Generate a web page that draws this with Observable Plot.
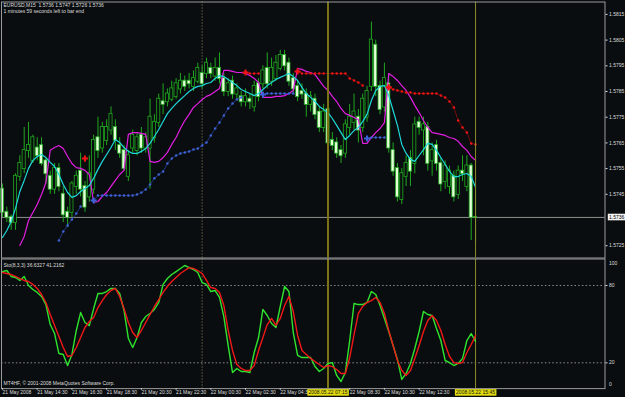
<!DOCTYPE html>
<html>
<head>
<meta charset="utf-8">
<script src="https://cdn.jsdelivr.net/npm/d3@7"></script>
<script src="https://cdn.jsdelivr.net/npm/@observablehq/plot@0.6"></script>
<style>
  html, body { margin: 0; padding: 0; background: #0a0d0f; }
  #chart { width: 625px; height: 397px; overflow: hidden; background: #0a0d0f; }
  #chart svg { display: block; }
</style>
</head>
<body>
<div id="chart"></div>
<script>
// ---------- texts ----------
const symbolName = "EURUSD,M15";
const headerOHLC = ["1.5736", "1.5747", "1.5726", "1.5736"];
const timerText = "1 minutes 59 seconds left to bar end";
const stochName = "Sto(8,3,3)";
const stochLast = ["36.6327", "41.2162"];
const copyright = "MT4HF, \u00a9 2001-2008 MetaQuotes Software Corp.";

// ---------- candles (bar index 0 = 21 May 12:30, M15) ----------
const openP = [
1.5747,1.5738,1.5736,1.5734,1.5752,1.5755,1.5762,1.5758,1.5763,1.5764,
1.5758,1.5752,1.5747,1.5755,1.5745,1.5738,1.5738,1.5748,1.5754,1.5748,
1.5744,1.5747,1.5767,1.5763,1.5766,1.5770,1.5771,1.5764,1.5762,1.5752,
1.5763,1.5762,1.5768,1.5763,1.5763,1.5767,1.5773,1.5781,1.5781,1.5782,
1.5783,1.5786,1.5789,1.5789,1.5787,1.5789,1.5792,1.5792,1.5794,1.5791,
1.5794,1.5790,1.5785,1.5789,1.5784,1.5783,1.5781,1.5782,1.5779,1.5788,
1.5788,1.5794,1.5789,1.5790,1.5794,1.5799,1.5796,1.5790,1.5787,1.5785,
1.5784,1.5780,1.5782,1.5777,1.5771,1.5778,1.5766,1.5765,1.5762,1.5761,
1.5771,1.5773,1.5775,1.5771,1.5775,1.5787,1.5803,1.5787,1.5779,1.5788,
1.5762,1.5755,1.5743,1.5752,1.5759,1.5757,1.5773,1.5770,1.5771,1.5758,
1.5764,1.5757,1.5750,1.5748,1.5752,1.5745,1.5754,1.5748,1.5756,1.5736];
const highP = [
1.5749,1.5740,1.5737,1.5753,1.5760,1.5771,1.5773,1.5768,1.5767,1.5767,
1.5759,1.5754,1.5757,1.5757,1.5748,1.5740,1.5750,1.5754,1.5761,1.5750,
1.5760,1.5768,1.5775,1.5773,1.5774,1.5779,1.5774,1.5767,1.5764,1.5762,
1.5770,1.5769,1.5771,1.5769,1.5782,1.5776,1.5784,1.5788,1.5786,1.5789,
1.5790,1.5792,1.5791,1.5792,1.5793,1.5796,1.5795,1.5798,1.5796,1.5798,
1.5800,1.5792,1.5790,1.5791,1.5788,1.5785,1.5786,1.5784,1.5789,1.5790,
1.5795,1.5800,1.5798,1.5799,1.5801,1.5801,1.5798,1.5792,1.5789,1.5788,
1.5786,1.5785,1.5784,1.5779,1.5780,1.5780,1.5769,1.5767,1.5764,1.5774,
1.5780,1.5784,1.5778,1.5784,1.5787,1.5812,1.5805,1.5789,1.5796,1.5792,
1.5765,1.5757,1.5755,1.5760,1.5762,1.5775,1.5775,1.5775,1.5773,1.5765,
1.5766,1.5759,1.5758,1.5756,1.5754,1.5756,1.5760,1.5760,1.5757,1.5747];
const lowP = [
1.5736,1.5734,1.5731,1.5731,1.5750,1.5753,1.5759,1.5757,1.5758,1.5756,
1.5749,1.5745,1.5745,1.5746,1.5734,1.5732,1.5736,1.5745,1.5744,1.5738,
1.5742,1.5745,1.5759,1.5761,1.5764,1.5768,1.5762,1.5759,1.5754,1.5750,
1.5761,1.5760,1.5761,1.5761,1.5747,1.5765,1.5771,1.5776,1.5779,1.5781,
1.5782,1.5784,1.5785,1.5786,1.5785,1.5788,1.5786,1.5790,1.5790,1.5789,
1.5788,1.5783,1.5783,1.5782,1.5782,1.5779,1.5779,1.5778,1.5777,1.5781,
1.5786,1.5786,1.5787,1.5789,1.5793,1.5793,1.5787,1.5784,1.5781,1.5782,
1.5775,1.5777,1.5774,1.5769,1.5769,1.5763,1.5762,1.5759,1.5757,1.5759,
1.5768,1.5770,1.5765,1.5769,1.5773,1.5785,1.5783,1.5776,1.5777,1.5761,
1.5752,1.5742,1.5741,1.5748,1.5748,1.5753,1.5768,1.5760,1.5754,1.5752,
1.5754,1.5746,1.5747,1.5745,1.5742,1.5743,1.5750,1.5746,1.5727,1.5726];
const closeP = [
1.5738,1.5736,1.5734,1.5752,1.5757,1.5762,1.5764,1.5767,1.5760,1.5757,
1.5753,1.5747,1.5755,1.5748,1.5737,1.5736,1.5749,1.5752,1.5747,1.5740,
1.5753,1.5766,1.5762,1.5771,1.5771,1.5776,1.5766,1.5761,1.5755,1.5760,
1.5768,1.5767,1.5763,1.5767,1.5775,1.5773,1.5782,1.5780,1.5784,1.5786,
1.5788,1.5789,1.5787,1.5788,1.5790,1.5794,1.5788,1.5796,1.5792,1.5794,
1.5790,1.5785,1.5788,1.5784,1.5786,1.5781,1.5783,1.5781,1.5787,1.5783,
1.5793,1.5788,1.5794,1.5796,1.5799,1.5795,1.5789,1.5786,1.5783,1.5784,
1.5780,1.5783,1.5776,1.5771,1.5777,1.5765,1.5764,1.5761,1.5760,1.5772,
1.5775,1.5777,1.5770,1.5782,1.5785,1.5805,1.5787,1.5778,1.5790,1.5763,
1.5754,1.5744,1.5753,1.5757,1.5754,1.5772,1.5771,1.5772,1.5757,1.5762,
1.5757,1.5749,1.5756,1.5754,1.5744,1.5754,1.5753,1.5756,1.5736,1.5736];

// ---------- indicators ----------
const maLine = [ // cyan
1.57282,1.57309,1.57344,1.57395,1.57461,1.57504,1.57551,1.57582,1.57597,1.57605,
1.57593,1.57574,1.57558,1.57527,1.57488,1.57457,1.57438,1.57445,1.57461,1.57473,
1.57484,1.57512,1.57547,1.57578,1.57605,1.57632,1.57663,1.57652,1.57632,1.57617,
1.57609,1.57609,1.57617,1.57628,1.57648,1.57675,1.57702,1.57733,1.57764,1.57784,
1.57803,1.57819,1.57834,1.5785,1.57862,1.5787,1.57873,1.57881,1.57885,1.57901,
1.57912,1.57908,1.57897,1.57885,1.57873,1.57858,1.5785,1.57842,1.57834,1.57842,
1.57858,1.57873,1.57885,1.57897,1.57905,1.57912,1.5792,1.57908,1.57893,1.57866,
1.57842,1.57827,1.57811,1.57792,1.5778,1.57768,1.57745,1.57718,1.5769,1.57663,
1.57679,1.57698,1.5771,1.57733,1.57761,1.57815,1.57854,1.5787,1.57873,1.57834,
1.57776,1.57718,1.57644,1.57609,1.57586,1.57578,1.57601,1.57624,1.57648,1.57644,
1.57621,1.57593,1.57566,1.57539,1.57519,1.57519,1.57527,1.57531,1.57519,1.57477];
const envLine = [ // magenta
null,null,null,null,1.57251,1.57286,1.57348,1.57379,1.5741,1.57449,
1.57496,1.57621,1.57632,1.5764,1.57628,1.57597,1.5757,1.57554,1.57551,1.57543,
1.57527,1.57418,1.57422,1.57442,1.57457,1.57481,1.57504,1.57527,1.57543,1.57683,
1.5769,1.5769,1.57687,1.57683,1.57578,1.57574,1.57578,1.57593,1.57613,1.57644,
1.57671,1.57706,1.57737,1.57761,1.57788,1.57803,1.57819,1.57831,1.57838,1.5785,
1.57862,1.57932,1.57932,1.57928,1.57924,1.57924,1.5792,1.57912,1.57901,1.57885,
1.57827,1.57827,1.57827,1.57831,1.57831,1.57834,1.57842,1.57854,1.5794,1.57936,
1.57928,1.57924,1.57916,1.57893,1.5787,1.57854,1.57831,1.57811,1.57784,1.57764,
1.57757,1.57749,1.57741,1.57648,1.57648,1.57671,1.5769,1.57706,1.57729,1.5792,
1.57908,1.57893,1.57873,1.57854,1.57827,1.57796,1.57768,1.57737,1.5771,1.5769,
1.57687,1.57683,1.57679,1.57671,1.57667,1.57656,1.57636,1.57621,1.57597,1.57582];
const sarAbove = [ // red dots
null,null,null,null,null,null,null,null,null,null,
null,null,null,null,null,null,null,null,null,1.57589,
null,null,null,null,null,null,null,null,null,null,
null,null,null,null,null,null,null,null,null,null,
null,null,null,null,null,null,null,null,null,null,
null,null,null,null,null,null,1.57924,1.5792,1.5792,1.5792,
null,null,null,null,null,null,null,null,1.57928,1.5792,
1.5792,1.5792,1.5792,1.5792,1.5792,1.5792,1.5792,1.5792,1.5792,1.5792,
1.57901,1.57893,1.57885,1.57873,null,null,null,null,null,1.57866,
1.57858,1.57854,1.5785,1.57846,1.57846,1.57842,1.57842,1.57842,1.57842,1.57842,
1.57842,1.57834,1.57827,1.57811,1.57788,1.57737,1.5771,1.5769,1.57648,1.57644];
const sarBelow = [ // blue dots
null,null,null,null,null,null,null,null,null,null,
null,null,null,1.5727,1.57305,1.57329,1.57352,1.57375,1.57403,null,
null,1.57426,1.57445,1.57445,1.57445,1.57445,1.57445,1.57445,1.57445,1.57445,
1.57445,1.57449,1.57457,1.57469,1.57488,1.57512,1.57527,1.57539,1.5757,1.57589,
1.57601,1.57609,1.57613,1.57617,1.57624,1.57628,1.5764,1.57652,1.57679,1.57706,
1.57729,1.57757,1.57784,1.57803,1.57819,1.57827,null,null,null,null,
1.57838,1.57842,1.57842,1.57842,1.57842,1.57842,1.57842,1.57842,null,null,
null,null,null,null,null,null,null,null,null,null,
null,null,null,null,1.57667,1.57671,1.57671,1.57671,1.57671,null,
null,null,null,null,null,null,null,null,null,null,
null,null,null,null,null,null,null,null,null,null];
const stochK = [
90.8,91.6,87.0,86.2,83.9,87.0,80.0,76.9,74.6,71.5,
65.2,49.7,42.7,27.2,26.5,17.9,26.5,45.1,59.0,51.3,
48.9,62.1,73.8,73.8,75.3,77.7,77.7,73.8,60.6,38.9,
31.9,39.6,51.3,55.9,58.3,61.4,66.8,80.8,85.4,88.5,
90.8,93.2,95.5,93.9,92.4,90.1,82.3,80.8,75.3,76.1,
70.7,55.9,33.4,12.5,15.6,13.3,13.3,12.5,28.0,39.6,
61.4,56.7,50.5,47.4,63.7,79.2,75.3,43.5,25.7,24.1,
24.1,24.1,17.1,13.3,15.6,19.5,20.2,10.2,5.5,12.5,
37.3,66.0,65.2,65.2,66.8,75.3,73.0,64.5,54.4,44.3,
33.4,22.6,7.1,11.7,19.5,31.1,44.3,59.8,57.5,56.7,
46.6,37.3,21.8,20.2,17.9,19.5,23.3,37.3,42.7,36.6];
const stochD = [
90.1,89.3,88.5,87.0,85.4,83.9,83.1,80.8,77.7,73.0,
66.8,57.5,49.0,40.4,31.9,24.9,25.7,31.9,39.6,47.4,
52.1,55.2,62.9,68.3,73.0,76.1,77.7,71.5,62.1,51.3,
43.5,39.6,45.1,51.3,57.5,63.7,69.1,74.6,79.2,83.1,
86.2,89.3,91.6,93.9,93.2,91.6,89.3,83.9,78.4,77.7,
74.6,64.5,45.1,29.6,18.7,15.6,14.0,14.0,17.9,29.6,
39.6,49.7,54.4,49.0,54.4,64.5,71.5,59.8,41.2,29.6,
26.5,23.4,21.0,18.7,16.4,17.9,17.1,14.8,11.7,11.7,
24.1,41.9,58.3,63.7,66.8,68.3,70.7,66.8,58.3,45.1,
33.4,21.8,14.0,10.2,14.0,23.4,33.4,44.3,52.9,56.7,
52.9,45.1,34.2,24.9,20.2,19.5,20.2,28.0,34.2,41.2];

// ---------- axes / markers ----------
const priceTicks = [1.5725, 1.5745, 1.5755, 1.5765, 1.5775, 1.5785, 1.5795, 1.5805, 1.5815];
const currentPrice = 1.5736;
const stochLevels = [20, 80];
const stochEnds = [100, 0];
const timeTickIndex = [0, 8, 16, 24, 32, 40, 48, 56, 64, 80, 88, 96];
const timeTickLabels = ["21 May 2008", "21 May 14:30", "21 May 16:30", "21 May 18:30", "21 May 20:30",
  "21 May 22:30", "22 May 00:30", "22 May 02:30", "22 May 04:30", "22 May 08:30",
  "22 May 10:30", "22 May 12:30"];
const dayBreakIndex = 46;
const markerIndex = [75, 109];
const markerLabels = ["2008.05.22 07:15", "2008.05.22 15:45"];

// ---------- styling ----------
const BG = "#0a0d0f", FG = "#dedede", BORDER = "#9a9a9a";
const WICK = "#1fa81f", BEAR = "#e4ffd8";
const CYAN = "#1fd8d8", MAGENTA = "#e21ee2", RED = "#f01414", BLUE = "#3d62d6";
const KCOL = "#2fe42f", DCOL = "#f01818";
const FONT = "'Liberation Sans', Arial, sans-serif";
const xDomain = [-0.46, 143.55];

const bars = openP.map((o, i) => ({i, o, h: highP[i], l: lowP[i], c: closeP[i]}));
const ind = maLine.map((v, i) => ({i, ma: v, env: envLine[i], sa: sarAbove[i], sb: sarBelow[i], k: stochK[i], d: stochD[i]}));
const firstBlue = ind.findIndex(d => d.sb != null);
const flipsA = ind.filter((d, k) => d.sa != null && k > 0 && ind[k - 1].sa == null);
const flipsB = ind.filter((d, k) => d.sb != null && k > firstBlue && ind[k - 1].sb == null);
const markers = markerIndex.map((i, k) => ({i, label: markerLabels[k], k}));

const main = Plot.plot({
  width: 625, height: 258,
  marginLeft: 1, marginTop: 1.5, marginRight: 20.5, marginBottom: 0.5,
  style: {background: BG, color: FG, fontFamily: FONT, fontSize: "5px", overflow: "visible"},
  x: {type: "linear", domain: xDomain, range: [0, 625], axis: null},
  y: {domain: [1.5725, 1.5815], range: [245.2, 13.9]},
  marks: [
    Plot.ruleY([currentPrice], {stroke: "#8e8e8e", strokeWidth: 1}),
    Plot.ruleX([dayBreakIndex], {stroke: "#8f8f62", strokeDasharray: "1,2"}),
    Plot.ruleX(bars, {x: "i", y1: "l", y2: "h", stroke: WICK, strokeWidth: 1}),
    Plot.rect(bars, {
      x1: d => d.i - 0.36, x2: d => d.i + 0.36,
      y1: d => Math.min(d.o, d.c), y2: d => Math.max(d.o, d.c),
      insetTop: -0.5, insetBottom: -0.5,
      fill: d => d.c > d.o ? BG : BEAR, stroke: WICK, strokeWidth: 0.8
    }),
    Plot.line(ind, {x: "i", y: "env", stroke: MAGENTA, strokeWidth: 1.2, clip: true}),
    Plot.line(ind, {x: "i", y: "ma", stroke: CYAN, strokeWidth: 1.2, clip: true}),
    Plot.line(ind, {x: "i", y: "sa", stroke: "#b00c0c", strokeWidth: 0.8, strokeDasharray: "1,1.2"}),
    Plot.dot(ind.filter(d => d.sa != null), {x: "i", y: "sa", r: 1.25, fill: RED}),
    Plot.line(ind, {x: "i", y: "sb", stroke: "#2c4cb8", strokeWidth: 0.8, strokeDasharray: "1,1.2"}),
    Plot.dot(ind.filter(d => d.sb != null), {x: "i", y: "sb", r: 1.25, fill: BLUE}),
    Plot.dot(flipsA, {x: "i", y: "sa", symbol: "cross", r: 2.6, fill: RED}),
    Plot.dot(flipsB, {x: "i", y: "sb", symbol: "cross", r: 2.6, fill: BLUE}),
    Plot.ruleX(markers, {x: "i", stroke: d => d.k === 0 ? "#7c7414" : "#8f8c2c", strokeWidth: d => d.k === 0 ? 2 : 1}),
    Plot.frame({stroke: BORDER}),
    Plot.axisY({anchor: "right", ticks: priceTicks, tickFormat: d => d.toFixed(4), tickSize: 2, tickPadding: 2, label: null, color: FG}),
    Plot.text([`${symbolName}  ${headerOHLC.join(" ")}`], {frameAnchor: "top-left", dx: 2, dy: 3.5, textAnchor: "start", lineAnchor: "middle", fill: FG, fontSize: 5}),
    Plot.text([timerText], {frameAnchor: "top-left", dx: 2, dy: 9.5, textAnchor: "start", lineAnchor: "middle", fill: FG, fontSize: 5}),
    Plot.text([currentPrice], {y: d => d, text: d => d.toFixed(4), frameAnchor: "right", dx: 4, textAnchor: "start", lineAnchor: "middle", fill: "#000", fontSize: 5})
  ]
});

const stoch = Plot.plot({
  width: 625, height: 139,
  marginLeft: 1, marginTop: 0.5, marginRight: 20.5, marginBottom: 8.9,
  style: {background: BG, color: FG, fontFamily: FONT, fontSize: "5px", overflow: "visible"},
  x: {type: "linear", domain: xDomain, range: [0, 625]},
  y: {domain: [0, 100], range: [130.1, 1.2]},
  marks: [
    Plot.ruleY(stochLevels, {stroke: "#8e8e8e", strokeDasharray: "1.5,2.2"}),
    Plot.ruleX([dayBreakIndex], {stroke: "#8f8f62", strokeDasharray: "1,2"}),
    Plot.ruleX(markers, {x: "i", stroke: d => d.k === 0 ? "#7c7414" : "#8f8c2c", strokeWidth: d => d.k === 0 ? 2 : 1}),
    Plot.line(ind, {x: "i", y: "k", stroke: KCOL, strokeWidth: 1.4}),
    Plot.line(ind, {x: "i", y: "d", stroke: DCOL, strokeWidth: 1.4}),
    Plot.frame({stroke: BORDER}),
    Plot.axisY({anchor: "right", ticks: stochLevels, tickSize: 2, tickPadding: 2, label: null, color: FG}),
    Plot.text([stochEnds[0]], {y: d => d, text: d => String(d), frameAnchor: "right", dx: 4, dy: 4, textAnchor: "start", fill: FG, fontSize: 5}),
    Plot.text([stochEnds[1]], {y: d => d, text: d => String(d), frameAnchor: "right", dx: 4, dy: -4, textAnchor: "start", fill: FG, fontSize: 5}),
    Plot.axisX({anchor: "bottom", ticks: timeTickIndex, tickFormat: d => timeTickLabels[timeTickIndex.indexOf(d)],
      tickSize: 1.5, tickPadding: 0.8, textAnchor: "start", label: null, color: FG}),
    Plot.text(markers, {x: "i", text: "label", frameAnchor: "bottom", dy: 4.2, lineAnchor: "middle", textAnchor: "middle", fill: "#111", fontSize: 5}),
    Plot.text([`${stochName} ${stochLast.join(" ")}`], {frameAnchor: "top-left", dx: 2, dy: 6.5, textAnchor: "start", lineAnchor: "middle", fill: FG, fontSize: 5}),
    Plot.text([copyright], {frameAnchor: "bottom-left", dx: 2, dy: -5.5, textAnchor: "start", lineAnchor: "middle", fill: FG, fontSize: 5})
  ]
});

const holder = document.getElementById("chart");
holder.appendChild(main);
holder.appendChild(stoch);

// label boxes behind specific texts
function boxify(svg, labels, fill) {
  d3.select(svg).selectAll("text").filter(function () { return labels.includes(this.textContent); })
    .each(function () {
      const b = this.getBBox();
      const r = document.createElementNS("http://www.w3.org/2000/svg", "rect");
      r.setAttribute("x", b.x - 1.2);
      r.setAttribute("y", b.y - 0.3);
      r.setAttribute("width", b.width + 2.4);
      r.setAttribute("height", b.height + 0.6);
      r.setAttribute("fill", fill);
      const t = this.getAttribute("transform");
      if (t) r.setAttribute("transform", t);
      this.parentNode.insertBefore(r, this);
    });
}
boxify(main, [currentPrice.toFixed(4)], "#f4f4f4");
boxify(stoch, markerLabels, "#e2dc10");
</script>
</body>
</html>
